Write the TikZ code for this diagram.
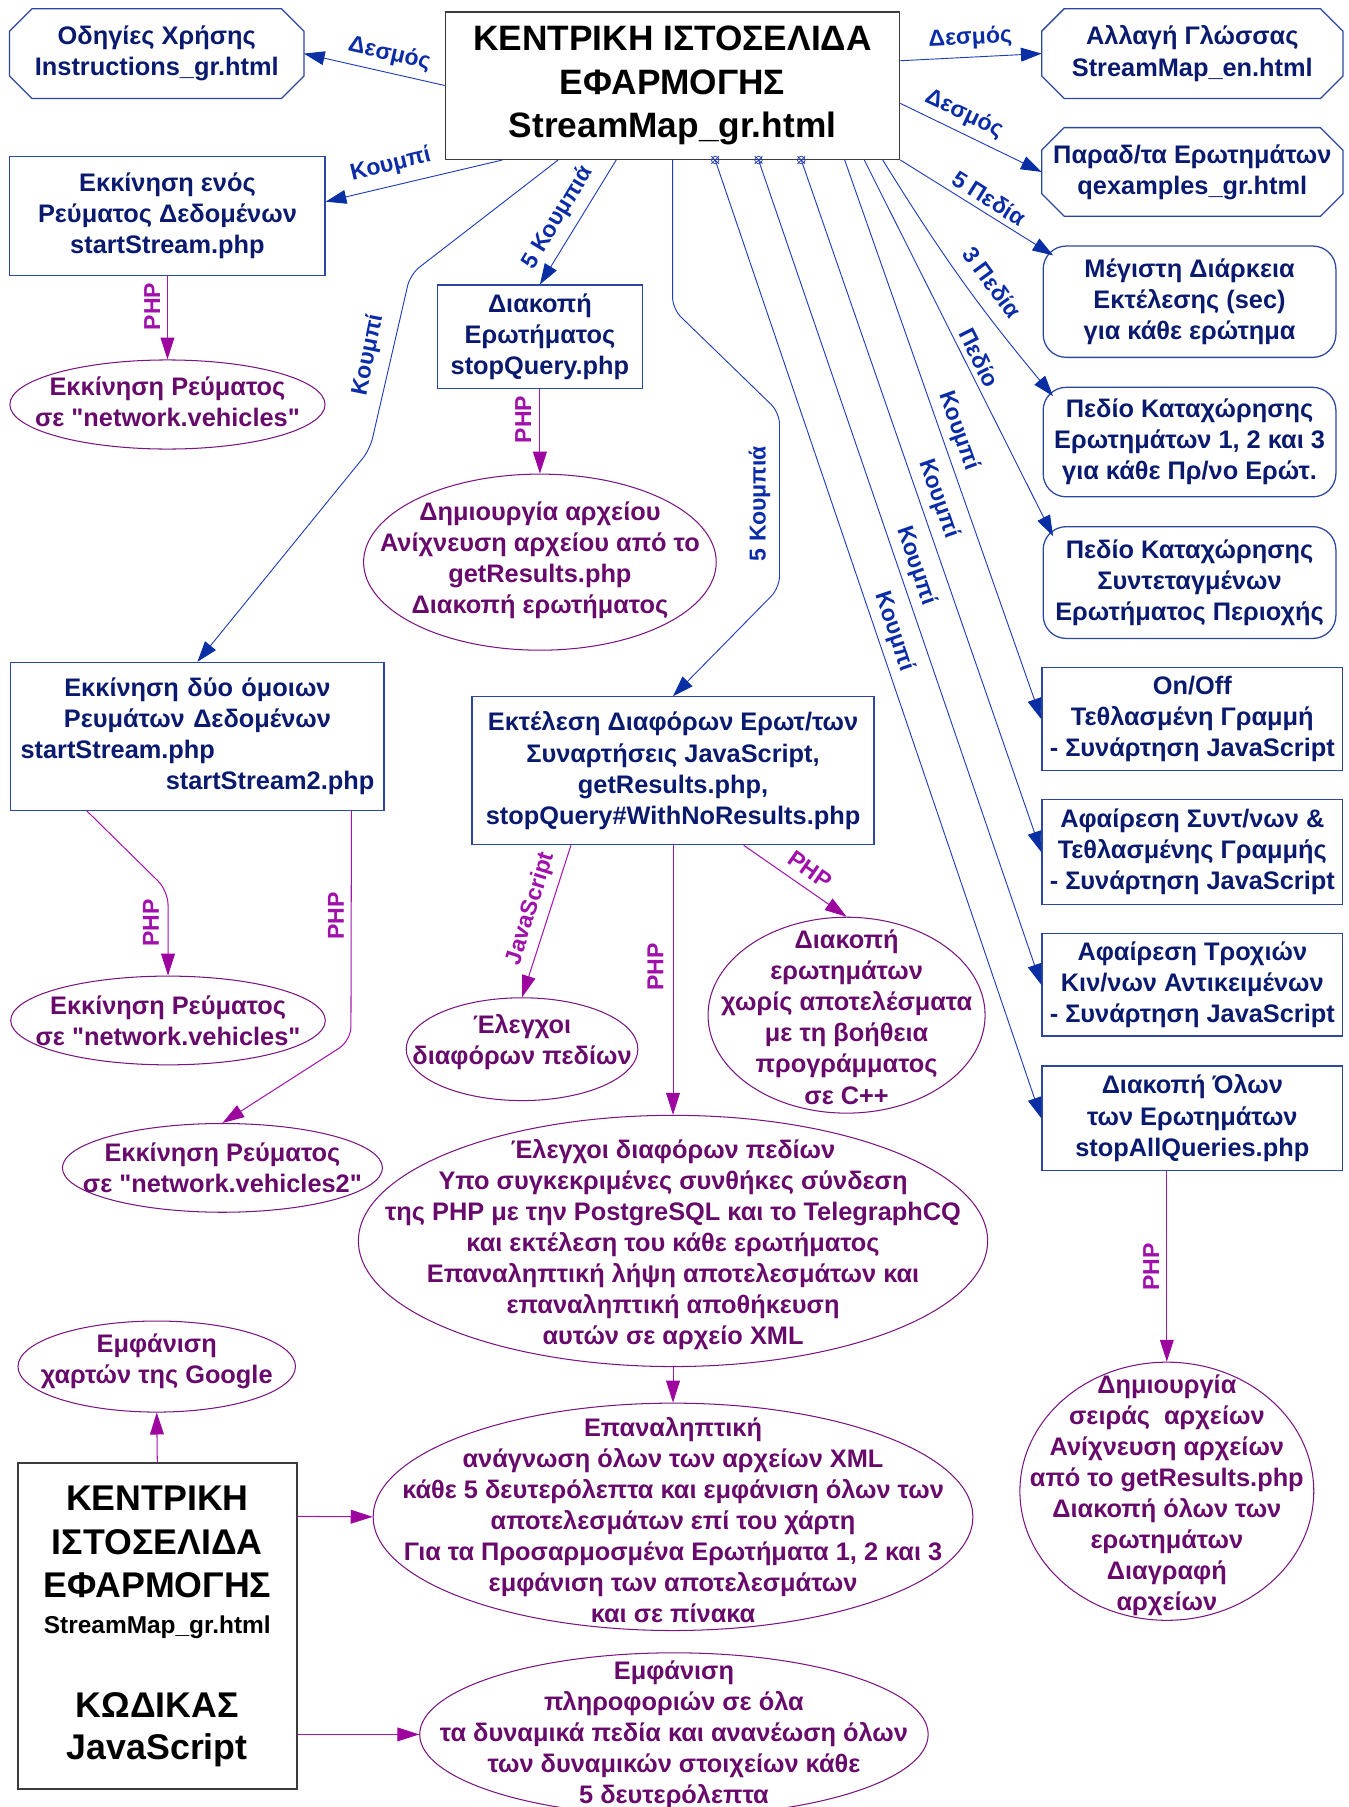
\documentclass[tikz,border=0pt]{standalone}
\usepackage{fontspec}
\setmainfont{Liberation Sans}[Ligatures=TeXOff]
\usetikzlibrary{arrows.meta,shapes.geometric}

\definecolor{navytxt}{HTML}{0A1A6E}
\definecolor{boxblue}{HTML}{2C47A0}
\definecolor{linkblue}{HTML}{1F3DB8}
\definecolor{tipblue}{HTML}{0A2FA5}
\definecolor{lblblue}{HTML}{0A2CA8}
\definecolor{plumtxt}{HTML}{680A6C}
\definecolor{plumline}{HTML}{7A1480}
\definecolor{phpline}{HTML}{A416AE}
\definecolor{phptip}{HTML}{9C069E}
\definecolor{phplbl}{HTML}{A010AA}
\definecolor{framegray}{HTML}{3C3C3C}

\tikzset{
  bodyfont/.style={font=\bfseries\fontsize{22}{27}\selectfont},
  bluebox/.style={draw=boxblue, line width=1.1pt, text=navytxt, bodyfont, align=center, inner sep=3pt},
  roundbox/.style={bluebox, rounded corners=20pt},
  octbox/.style={text=navytxt, bodyfont, align=center, inner sep=3pt},
  octline/.style={draw=boxblue, line width=1.1pt},
  plumell/.style={draw=plumline, line width=0.9pt, ellipse, inner sep=0pt},
  plumtext/.style={text=plumtxt, bodyfont, align=center, inner sep=0pt},
  blackbox/.style={draw=framegray, line width=1.3pt, inner sep=0pt},
  link/.style={linkblue, line width=0.8pt, rounded corners=10pt,
    -{Triangle[length=18pt,width=12pt,color=tipblue]}},
  phplink/.style={phpline, line width=0.9pt, rounded corners=12pt,
    -{Triangle[length=19pt,width=12pt,color=phptip]}},
  lbl/.style={text=lblblue, font=\bfseries\fontsize{20}{24}\selectfont, inner sep=0pt},
  phplabel/.style={text=phplbl, font=\bfseries\fontsize{20}{24}\selectfont, inner sep=0pt},
  marker/.style={linkblue, line width=0.6pt},
}

% chamfered frame around a named node
\newcommand\octframe[1]{%
  \draw[octline] ([xshift=19.5pt]#1.north west) -- ([xshift=-19.5pt]#1.north east)
    -- ([yshift=-19.5pt]#1.north east) -- ([yshift=19.5pt]#1.south east)
    -- ([xshift=-19.5pt]#1.south east) -- ([xshift=19.5pt]#1.south west)
    -- ([yshift=19.5pt]#1.south west) -- ([yshift=-19.5pt]#1.north west) -- cycle;}

\begin{document}
\begin{tikzpicture}[x=1pt,y=-1pt]
\useasboundingbox (0,0) rectangle (1170,1568);
\fill[white] (0,0) rectangle (1170,1568);

% ---------- main page ----------
\node[blackbox, minimum width=394pt, minimum height=128pt, text=black, align=center,
      font=\bfseries\fontsize{30.6}{37.5}\selectfont] (main) at (583.6,74.2)
  {ΚΕΝΤΡΙΚΗ ΙΣΤΟΣΕΛΙΔΑ\\ΕΦΑΡΜΟΓΗΣ\\StreamMap\_gr.html};

% ---------- linked pages ----------
\node[octbox, minimum width=255pt, minimum height=77.5pt] (instr) at (136,46.5)
  {Οδηγίες Χρήσης\\Instructions\_gr.html};
\octframe{instr}
\node[octbox, minimum width=261pt, minimum height=77.5pt] (lang) at (1034.6,46.5)
  {Αλλαγή Γλώσσας\\StreamMap\_en.html};
\octframe{lang}
\node[octbox, minimum width=261pt, minimum height=76.5pt] (qex) at (1034.6,149.2)
  {Παραδ/τα Ερωτημάτων\\qexamples\_gr.html};
\octframe{qex}

% ---------- input fields ----------
\node[roundbox, minimum width=254pt, minimum height=96.6pt] (maxdur) at (1032.2,261.8)
  {Μέγιστη Διάρκεια\\Εκτέλεσης (sec)\\για κάθε ερώτημα};
\node[roundbox, minimum width=254pt, minimum height=95pt] (field1) at (1032.2,383.6)
  {Πεδίο Καταχώρησης\\Ερωτημάτων 1, 2 και 3\\για κάθε Πρ/νο Ερώτ.};
\node[roundbox, minimum width=254pt, minimum height=97pt] (field2) at (1032.2,505.5)
  {Πεδίο Καταχώρησης\\Συντεταγμένων\\Ερωτήματος Περιοχής};

% ---------- buttons ----------
\node[bluebox, minimum width=261pt, minimum height=89pt] (onoff) at (1034.6,624)
  {On/Off\\Τεθλασμένη Γραμμή\\- Συνάρτηση JavaScript};
\node[bluebox, minimum width=261pt, minimum height=90.7pt] (remcoord) at (1034.6,739.4)
  {Αφαίρεση Συντ/νων \&\\Τεθλασμένης Γραμμής\\- Συνάρτηση JavaScript};
\node[bluebox, minimum width=261pt, minimum height=89pt] (remtraj) at (1034.6,854.5)
  {Αφαίρεση Τροχιών\\Κιν/νων Αντικειμένων\\- Συνάρτηση JavaScript};
\node[bluebox, minimum width=261pt, minimum height=90.6pt] (stopall) at (1034.6,970.3)
  {Διακοπή Όλων\\των Ερωτημάτων\\stopAllQueries.php};

\node[bluebox, minimum width=273.5pt, minimum height=103pt] (one) at (145.3,187.5)
  {Εκκίνηση ενός\\Ρεύματος Δεδομένων\\startStream.php};
\node[bluebox, minimum width=178pt, minimum height=89.6pt] (stopq) at (468.5,292.2)
  {Διακοπή\\Ερωτήματος\\stopQuery.php};
\node[bluebox, minimum width=324pt, minimum height=128.2pt, text width=307pt] (two) at (171.3,638.9)
  {Εκκίνηση δύο όμοιων\\Ρευμάτων Δεδομένων\\startStream.php\hfill\mbox{}\\\leavevmode\hfill startStream2.php};
\node[bluebox, minimum width=348.8pt, minimum height=128.3pt] (exec) at (584,668.8)
  {Εκτέλεση Διαφόρων Ερωτ/των\\Συναρτήσεις JavaScript,\\getResults.php,\\stopQuery\#WithNoResults.php};

% ---------- server side actions ----------
\node[plumell, minimum width=273.5pt, minimum height=77.3pt] (e13) at (145.3,351) {};
\node[plumtext] (e13t) at (145.3,349) {Εκκίνηση Ρεύματος\\σε "network.vehicles"};
\node[plumell, minimum width=306pt, minimum height=152.8pt] (e15) at (468.5,487.8) {};
\node[plumtext] (e15t) at (468.5,486) {Δημιουργία αρχείου\\Ανίχνευση αρχείου από το\\getResults.php\\Διακοπή ερωτήματος};
\node[plumell, minimum width=273pt, minimum height=77pt] (e18) at (145.8,885.5) {};
\node[plumtext] (e18t) at (145.8,885.5) {Εκκίνηση Ρεύματος\\σε "network.vehicles"};
\node[plumell, minimum width=201pt, minimum height=89.2pt] (e19) at (453,910.4) {};
\node[plumtext] (e19t) at (453,904.5) {Έλεγχοι\\διαφόρων πεδίων};
\node[plumell, minimum width=240.4pt, minimum height=170pt] (e20) at (734.6,880.9) {};
\node[plumtext] (e20t) at (734.6,882.5) {Διακοπή\\ερωτημάτων\\χωρίς αποτελέσματα\\με τη βοήθεια\\προγράμματος\\σε C++};
\node[plumell, minimum width=277.7pt, minimum height=77pt] (e21) at (193,1013.4) {};
\node[plumtext] (e21t) at (193,1013.5) {Εκκίνηση Ρεύματος\\σε "network.vehicles2"};
\node[plumell, minimum width=546pt, minimum height=218pt] (e22) at (584,1076.8) {};
\node[plumtext] (e22t) at (584,1080) {Έλεγχοι διαφόρων πεδίων\\Υπο συγκεκριμένες συνθήκες σύνδεση\\της PHP με την PostgreSQL και το TelegraphCQ\\και εκτέλεση του κάθε ερωτήματος\\Επαναληπτική λήψη αποτελεσμάτων και\\επαναληπτική αποθήκευση\\αυτών σε αρχείο XML};
\node[plumell, minimum width=255pt, minimum height=224pt] (e27) at (1012.5,1294) {};
\node[plumtext, font=\bfseries\fontsize{22}{26.8}\selectfont] (e27t) at (1012.5,1297.5) {Δημιουργία\\σειράς\ \ αρχείων\\Ανίχνευση αρχείων\\από το getResults.php\\Διακοπή όλων των\\ερωτημάτων\\Διαγραφή\\αρχείων};

% ---------- client side code ----------
\node[blackbox, minimum width=242pt, minimum height=282.6pt] (code) at (136.5,1410.9) {};
\node[text=black, align=center, inner sep=0pt, font=\bfseries\fontsize{31}{38}\selectfont]
  (codeA) at (136.5,1338) {ΚΕΝΤΡΙΚΗ\\ΙΣΤΟΣΕΛΙΔΑ\\ΕΦΑΡΜΟΓΗΣ};
\node[text=black, inner sep=0pt, font=\bfseries\fontsize{21.2}{24}\selectfont]
  (codeB) at (136.5,1412) {StreamMap\_gr.html};
\node[text=black, align=center, inner sep=0pt, font=\bfseries\fontsize{31}{36}\selectfont]
  (codeC) at (136.5,1501) {ΚΩΔΙΚΑΣ\\JavaScript};

\node[plumell, minimum width=240.8pt, minimum height=79pt] (e23) at (136,1185.8) {};
\node[plumtext] (e23t) at (136,1181) {Εμφάνιση\\χαρτών της Google};
\node[plumell, minimum width=520.4pt, minimum height=197.3pt] (e25) at (584,1316.2) {};
\node[plumtext] (e25t) at (584,1319) {Επαναληπτική\\ανάγνωση όλων των αρχείων XML\\κάθε 5 δευτερόλεπτα και εμφάνιση όλων των\\αποτελεσμάτων επί του χάρτη\\Για τα Προσαρμοσμένα Ερωτήματα 1, 2 και 3\\εμφάνιση των αποτελεσμάτων\\και σε πίνακα};
\node[plumell, minimum width=441.2pt, minimum height=141.6pt] (e26) at (584.8,1505) {};
\node[plumtext] (e26t) at (584.8,1505.5) {Εμφάνιση\\πληροφοριών σε όλα\\τα δυναμικά πεδία και ανανέωση όλων\\των δυναμικών στοιχείων κάθε\\5 δευτερόλεπτα};

% ---------- connectors from the main page ----------
\draw[link] (main.west) -- (instr.east);
\draw[link] ([yshift=21.5pt]main.east) -- (lang.west);
\draw[link] ([yshift=-15.5pt]main.east) -- (qex.west);
\draw[link] (main.south east) -- ([xshift=9.3pt,yshift=-8.7pt]maxdur.north west);
\draw[link] ([xshift=-15.3pt]main.south east) to[bend right=4] ([xshift=9.1pt,yshift=-8.2pt]field1.north west);
\draw[link] ([xshift=-31.3pt]main.south east) -- ([xshift=9.1pt,yshift=-8.8pt]field2.north west);
\draw[link] ([xshift=-48.3pt]main.south east) -- (onoff.west);

\coordinate (mk1) at ([xshift=37pt]main.south);
\coordinate (mk2) at ([xshift=74.6pt]main.south);
\coordinate (mk3) at ([xshift=111.7pt]main.south);
\draw[link] (mk3) -- (remcoord.west);
\draw[link] (mk2) -- (remtraj.west);
\draw[link] (mk1) -- (stopall.west);
\foreach \m in {mk1,mk2,mk3}
  \draw[marker] (\m) circle[radius=3.3] +(-3.3,-3.3) -- +(3.3,3.3) +(-3.3,3.3) -- +(3.3,-3.3);

\draw[link] (main.south) -- (583.6,268) -- (676.4,358) -- (676.4,510) -- (exec.north);
\draw[link] ([xshift=-48.9pt]main.south) -- (stopq.north);
\draw[link] ([xshift=-147.7pt]main.south) -- ([yshift=12.5pt]one.east);
\draw[link] ([xshift=-99.3pt]main.south) -- (356,238) -- (321,390) -- (two.north);

% ---------- server calls ----------
\draw[phplink] (one.south) -- (e13.north);
\draw[phplink] (stopq.south) -- (e15.north);
\draw[phplink] ([xshift=66.5pt]two.south west) -- (145.8,773) -- (e18.north);
\draw[phplink] ([xshift=-28.9pt]two.south east) -- (304.5,903) -- (e21.north);
\draw[phplink] ([xshift=-88.6pt]exec.south) -- (e19.north);
\draw[phplink] (exec.south) -- (e22.north);
\draw[phplink] ([xshift=61.3pt]exec.south) -- (e20.north);
\draw[phplink] (e22.south) -- (e25.north);
\draw[phplink] ([xshift=-22.1pt]stopall.south) -- (e27.north);
\draw[phplink] (code.north) -- (e23.south);
\draw[phplink] ([yshift=95.1pt]code.east) -- (e25.west);
\draw[phplink] ([yshift=-94.1pt]code.east) -- (e26.west);

% ---------- connector labels ----------
\node[lbl, rotate=-12.8] (lbA) at (338,47) {Δεσμός};
\node[lbl, rotate=2.9] (lbB) at (842,33) {Δεσμός};
\node[lbl, rotate=-25.3] (lbC) at (836.6,99) {Δεσμός};
\node[lbl, rotate=-32.2] (lbD) at (858.5,172) {5 Πεδία};
\node[lbl, rotate=-54] (lbE) at (861,245) {3 Πεδία};
\node[lbl, rotate=-63.3] (lbF) at (850,310.5) {Πεδίο};
\node[lbl, rotate=-70.3] (lbG) at (831.8,374) {Κουμπί};
\node[lbl, rotate=-70.7] (lbH) at (814.4,433) {Κουμπί};
\node[lbl, rotate=-71] (lbI) at (795,491) {Κουμπί};
\node[lbl, rotate=-71.2] (lbJ) at (776,548) {Κουμπί};
\node[lbl, rotate=90] (lbK) at (659,437) {5 Κουμπιά};
\node[lbl, rotate=58.8] (lbL) at (484,189) {5 Κουμπιά};
\node[lbl, rotate=13.3] (lbM) at (339,143) {Κουμπί};
\node[lbl, rotate=78.4] (lbN) at (319.5,308) {Κουμπί};

\node[phplabel, rotate=90] (pA) at (132,266) {PHP};
\node[phplabel, rotate=90] (pB) at (454,364) {PHP};
\node[phplabel, rotate=90] (pC) at (131,801) {PHP};
\node[phplabel, rotate=90] (pD) at (291.5,795) {PHP};
\node[phplabel, rotate=90] (pE) at (568.7,839) {PHP};
\node[phplabel, rotate=-35] (pF) at (703,755) {PHP};
\node[phplabel, rotate=90] (pG) at (999,1099.5) {PHP};
\node[phplabel, rotate=72.6] (pJ) at (460.8,788.5) {JavaScript};

\end{tikzpicture}
\end{document}
